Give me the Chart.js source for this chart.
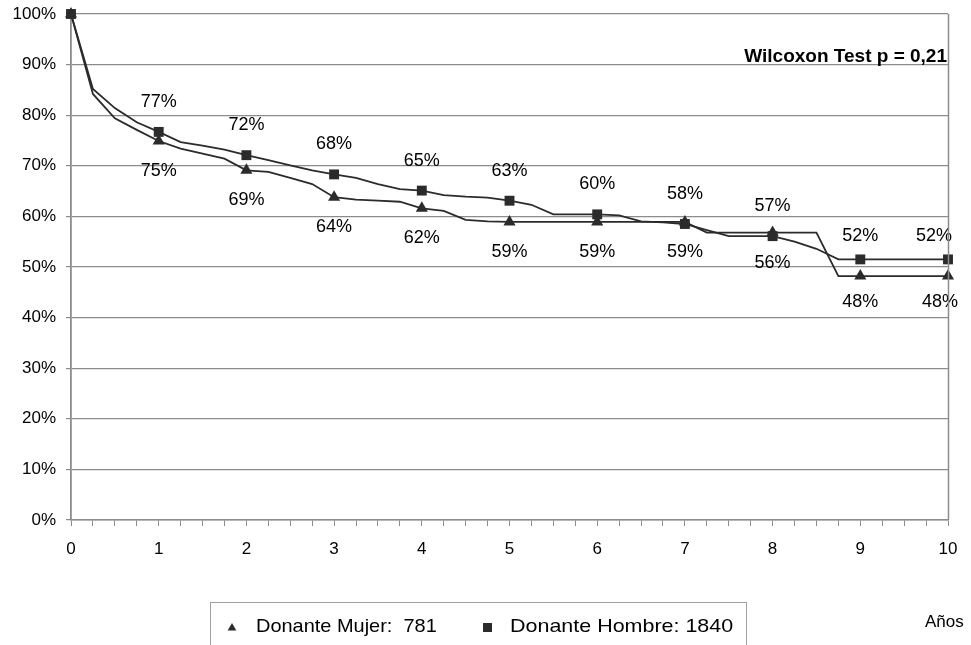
<!DOCTYPE html>
<html>
<head>
<meta charset="utf-8">
<script src="https://cdn.jsdelivr.net/npm/chart.js@4.4.1/dist/chart.umd.min.js"></script>
<style>
  html, body { margin: 0; padding: 0; background: #fff; }
  #wrap { width: 971px; height: 645px; }
</style>
</head>
<body>
<div id="wrap"><canvas id="c" width="971" height="645"></canvas></div>
<script>
// quarters of a year, 0 .. 10
var years = [0, 0.25, 0.5, 0.75, 1, 1.25, 1.5, 1.75, 2, 2.25, 2.5, 2.75, 3, 3.25, 3.5, 3.75,
  4, 4.25, 4.5, 4.75, 5, 5.25, 5.5, 5.75, 6, 6.25, 6.5, 6.75, 7, 7.25, 7.5, 7.75,
  8, 8.25, 8.5, 8.75, 9, 9.25, 9.5, 9.75, 10];

var hombre = [100, 85.2, 81.4, 78.6, 76.7, 74.7, 74.0, 73.2, 72.1, 71.1, 70.1, 69.1, 68.3, 67.6, 66.4, 65.4,
  65.1, 64.2, 63.9, 63.7, 63.1, 62.3, 60.4, 60.4, 60.4, 60.2, 59.0, 58.8, 58.5, 57.3, 56.1, 56.1,
  56.1, 55.0, 53.6, 51.5, 51.5, 51.5, 51.5, 51.5, 51.5];

var mujer = [100, 84.2, 79.4, 77.1, 74.9, 73.4, 72.4, 71.4, 69.1, 68.8, 67.6, 66.4, 63.8, 63.3, 63.1, 62.9,
  61.6, 61.1, 59.3, 59.0, 58.9, 58.9, 58.9, 58.9, 58.9, 58.9, 58.9, 58.9, 58.9, 56.8, 56.8, 56.8,
  56.8, 56.8, 56.8, 48.2, 48.2, 48.2, 48.2, 48.2, 48.2];

// labels written at the yearly markers (year 0 has none)
var labelsAbove = [null, "77%", "72%", "68%", "65%", "63%", "60%", "58%", "57%", "52%", "52%"];
var labelsBelow = [null, "75%", "69%", "64%", "62%", "59%", "59%", "59%", "56%", "48%", "48%"];

var legendMujer = "Donante Mujer:  781";
var legendHombre = "Donante Hombre: 1840";
var testText = "Wilcoxon Test p = 0,21";
var xTitle = "Años";

var LINE = "#2b2b2b";
var GRID = "#8c8c8c";
var FONT = "'Liberation Sans', Arial, sans-serif";

Chart.defaults.font.family = FONT;
Chart.defaults.font.size = 17;
Chart.defaults.color = "#000";

function toPoints(values) {
  var pts = [];
  for (var i = 0; i < years.length; i++) {
    pts.push({ x: years[i], y: values[i] });
  }
  return pts;
}

function yearlyRadius(ctx) {
  return Number.isInteger(years[ctx.dataIndex]) ? 7 : 0;
}

function drawTriangle(ctx, x, y, r) {
  ctx.beginPath();
  ctx.moveTo(x, y - r);
  ctx.lineTo(x + r * 0.866, y + r * 0.5);
  ctx.lineTo(x - r * 0.866, y + r * 0.5);
  ctx.closePath();
  ctx.fill();
}

// text a bit wider than the font, as in the original picture
function wideText(ctx, text, x, y, sx) {
  ctx.save();
  ctx.translate(x, y);
  ctx.scale(sx, 1);
  ctx.fillText(text, 0, 0);
  ctx.restore();
}

var extras = {
  id: "extras",
  afterDatasetsDraw: function(chart) {
    var ctx = chart.ctx;
    var area = chart.chartArea;
    var mH = chart.getDatasetMeta(0).data;
    var mM = chart.getDatasetMeta(1).data;
    ctx.save();
    ctx.font = "18px " + FONT;
    ctx.fillStyle = "#000";
    ctx.textAlign = "center";
    ctx.textBaseline = "middle";
    for (var i = 0; i < years.length; i++) {
      if (!Number.isInteger(years[i])) continue;
      var k = years[i];
      var up = k >= 9 ? 23 : 30;
      var down = k >= 9 ? 26 : 30;
      if (labelsAbove[k]) {
        var w = ctx.measureText(labelsAbove[k]).width;
        var x = Math.min(mH[i].x, area.right + 4 - w / 2);
        ctx.fillText(labelsAbove[k], x, mH[i].y - up);
      }
      if (labelsBelow[k]) {
        var w2 = ctx.measureText(labelsBelow[k]).width;
        var x2 = Math.min(mM[i].x, area.right + 10 - w2 / 2);
        ctx.fillText(labelsBelow[k], x2, mM[i].y + down);
      }
    }
    ctx.restore();
  },
  afterDraw: function(chart) {
    var ctx = chart.ctx;
    var area = chart.chartArea;
    ctx.save();
    // right border of the plot
    ctx.strokeStyle = GRID;
    ctx.lineWidth = 1.5;
    ctx.beginPath();
    ctx.moveTo(Math.round(area.right) + 0.5, area.top);
    ctx.lineTo(Math.round(area.right) + 0.5, area.bottom);
    ctx.stroke();

    // test result
    ctx.fillStyle = "#000";
    ctx.font = "bold 19px " + FONT;
    ctx.textAlign = "right";
    ctx.textBaseline = "alphabetic";
    ctx.fillText(testText, area.right - 1, 62);

    // legend box
    ctx.strokeStyle = "#a0a0a0";
    ctx.lineWidth = 1;
    ctx.strokeRect(210.5, 602.5, 536, 60);
    ctx.fillStyle = LINE;
    drawTriangle(ctx, 232, 628, 5);
    ctx.fillRect(483, 623, 9, 9);
    ctx.fillStyle = "#000";
    ctx.font = "19px " + FONT;
    ctx.textAlign = "left";
    ctx.textBaseline = "middle";
    wideText(ctx, legendMujer, 256, 627, 1.05);
    wideText(ctx, legendHombre, 510, 627, 1.13);

    ctx.font = "17px " + FONT;
    ctx.fillText(xTitle, 925, 622);
    ctx.restore();
  }
};

new Chart(document.getElementById("c"), {
  type: "line",
  data: {
    datasets: [
      {
        label: legendHombre,
        data: toPoints(hombre),
        borderColor: LINE,
        backgroundColor: LINE,
        borderWidth: 1.8,
        tension: 0,
        clip: false,
        pointStyle: "rect",
        pointRadius: yearlyRadius,
        pointHoverRadius: yearlyRadius,
        pointBorderWidth: 0
      },
      {
        label: legendMujer,
        data: toPoints(mujer),
        borderColor: LINE,
        backgroundColor: LINE,
        borderWidth: 1.8,
        tension: 0,
        clip: false,
        pointStyle: "triangle",
        pointRadius: yearlyRadius,
        pointHoverRadius: yearlyRadius,
        pointBorderWidth: 0
      }
    ]
  },
  options: {
    responsive: false,
    animation: false,
    devicePixelRatio: 1,
    layout: { padding: { top: 14, right: 23, left: 0, bottom: 0 } },
    plugins: {
      legend: { display: false },
      tooltip: { enabled: false }
    },
    scales: {
      x: {
        type: "linear",
        min: 0,
        max: 10,
        afterFit: function(s) { s.height = 125; },
        ticks: {
          stepSize: 0.25,
          autoSkip: false,
          maxRotation: 0,
          padding: 13,
          callback: function(v) { return Number.isInteger(v) ? String(v) : ""; }
        },
        grid: { drawOnChartArea: false, drawTicks: true, tickLength: 6, color: GRID },
        border: { color: GRID, width: 1.5 }
      },
      y: {
        min: 0,
        max: 100,
        afterFit: function(s) { s.width = 71; s.paddingTop = 0; s.paddingBottom = 0; },
        ticks: {
          stepSize: 10,
          padding: 10,
          callback: function(v) { return v + "%"; }
        },
        grid: { color: GRID, tickLength: 5, lineWidth: 1.2 },
        border: { color: GRID, width: 1.8 }
      }
    }
  },
  plugins: [extras]
});
</script>
</body>
</html>
